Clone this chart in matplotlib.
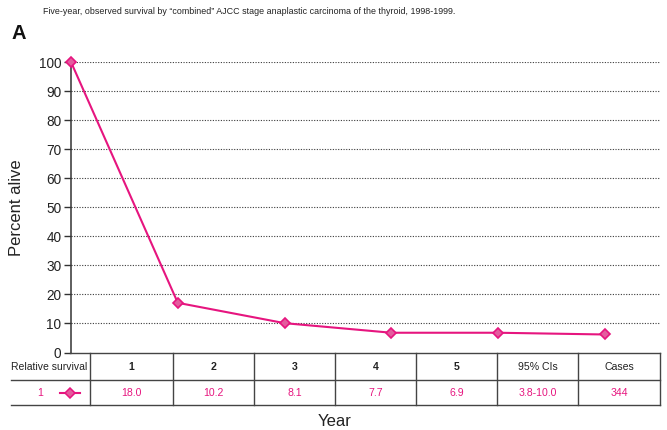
import matplotlib
matplotlib.use('Agg')
import matplotlib.pyplot as plt
from matplotlib.lines import Line2D

plt.rcParams['font.family'] = ['Liberation Sans', 'DejaVu Sans']

# observed survival (percent alive) by year
years = [0, 1, 2, 3, 4, 5]
pct_alive = [100, 17.1, 10.1, 6.8, 6.8, 6.2]

# relative survival table under the plot
table_header = ['1', '2', '3', '4', '5', '95% CIs', 'Cases']
table_values = ['18.0', '10.2', '8.1', '7.7', '6.9', '3.8-10.0', '344']
series_label = '1'

PINK = '#E6157F'
PINK_FILL = '#E45C9E'
GRID = '#3a3a3a'

W, H = 667, 430
fig = plt.figure(figsize=(W / 100, H / 100), dpi=100)

def fx(px):
    return px / W

def fy(py):
    return 1 - py / H

ax_left, ax_right, ax_top, ax_bottom = 71, 660, 62, 352.5
ax = fig.add_axes([fx(ax_left), fy(ax_bottom), fx(ax_right - ax_left), (ax_bottom - ax_top) / H])

ax.plot(years, pct_alive, color=PINK, lw=1.5, marker='D', markersize=5.5,
        markerfacecolor=PINK_FILL, markeredgecolor=PINK, markeredgewidth=1.2,
        clip_on=False, zorder=5)

ax.set_xlim(0, 5.515)
ax.set_ylim(0, 100)
ax.set_yticks(range(0, 101, 10))
for v in range(10, 101, 10):
    ax.axhline(v, color=GRID, lw=0.8, linestyle=(0, (1, 1.4)), zorder=1)
ax.set_xticks([])
ax.tick_params(axis='y', direction='out', length=5, width=1, color='#333333',
               labelsize=9.8, pad=2, labelcolor='#222222')
for s in ['top', 'right', 'bottom']:
    ax.spines[s].set_visible(False)
ax.spines['left'].set_color('#333333')
ax.spines['left'].set_linewidth(1.1)
ax.set_ylabel('Percent alive', fontsize=12, color='#222222', labelpad=4)
ax.yaxis.set_label_coords(fx(24 - ax_left) / fx(ax_right - ax_left), 0.5)

# table drawn in figure pixel coordinates
col_edges = [90, 173, 254, 335, 416, 497, 578, 660]
row_top, row_mid, row_bot = 352.5, 380, 405
line_kw = dict(color='#444444', lw=1.0, transform=fig.transFigure)

fig.add_artist(Line2D([fx(70), fx(660)], [fy(row_top)] * 2, **line_kw))
fig.add_artist(Line2D([fx(11), fx(660)], [fy(row_mid)] * 2, **line_kw))
fig.add_artist(Line2D([fx(11), fx(660)], [fy(row_bot)] * 2, **line_kw))
for xe in col_edges:
    fig.add_artist(Line2D([fx(xe)] * 2, [fy(row_top), fy(row_bot)], **line_kw))

hy = (row_top + row_mid) / 2 + 1
dy = (row_mid + row_bot) / 2
fig.text(fx(49), fy(hy), 'Relative survival', ha='center', va='center', fontsize=7.5, color='#222222')
for i, (h, v) in enumerate(zip(table_header, table_values)):
    cx = (col_edges[i] + col_edges[i + 1]) / 2
    bold = h.isdigit()
    fig.text(fx(cx), fy(hy), h, ha='center', va='center', fontsize=7.6,
             fontweight='bold' if bold else 'normal', color='#222222')
    fig.text(fx(cx), fy(dy), v, ha='center', va='center', fontsize=7.6, color=PINK)

fig.text(fx(40), fy(dy), series_label, ha='center', va='center', fontsize=7.6, color=PINK)
fig.add_artist(Line2D([fx(60), fx(80)], [fy(dy)] * 2, color=PINK, lw=1.5,
                      transform=fig.transFigure))
fig.add_artist(Line2D([fx(70)], [fy(dy)], color=PINK, marker='D', markersize=5,
                      markerfacecolor=PINK_FILL, markeredgecolor=PINK,
                      markeredgewidth=1.1, transform=fig.transFigure))

fig.text(fx(335), fy(421), 'Year', ha='center', va='center', fontsize=12, color='#222222')
fig.text(fx(12), fy(33.5), 'A', ha='left', va='center', fontsize=14.5, fontweight='bold', color='#111111')
fig.text(fx(43), fy(11), 'Five-year, observed survival by \u201ccombined\u201d AJCC stage anaplastic carcinoma of the thyroid, 1998-1999.',
         ha='left', va='center', fontsize=6.4, color='#222222')

fig.savefig('out.png', dpi=100)
